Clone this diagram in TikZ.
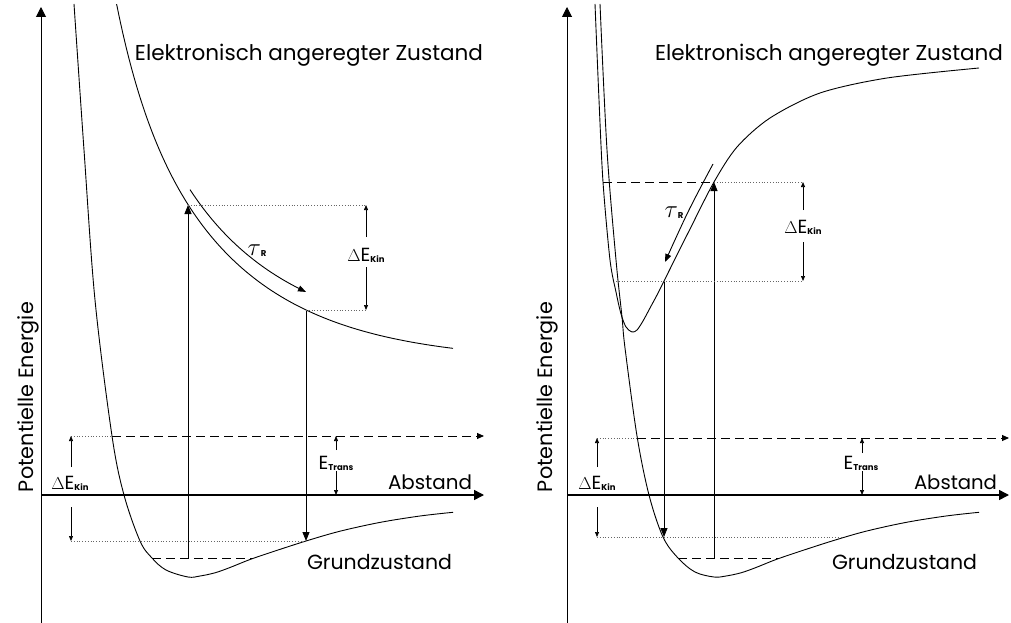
\documentclass[tikz,border=0pt]{standalone}
\usepackage{fontspec}
\setmainfont{Poppins}
\usetikzlibrary{arrows.meta}
\newcommand{\subbf}[1]{\raisebox{-1.5pt}{\fontsize{8.5}{9}\selectfont\bfseries #1}}
\newcommand{\myDEkin}{$\Delta$E\subbf{Kin}}
\newcommand{\myEtrans}{E\subbf{Trans}}
\newcommand{\mytauR}{{\fontsize{25}{26}\selectfont$\tau$}\subbf{R}}
\begin{document}
\begin{tikzpicture}[x=1pt,y=-1pt,
  curve/.style={line width=0.9pt},
  yaxisline/.style={line width=1pt,-{Triangle[length=10pt,width=10pt]}},
  xaxisline/.style={line width=1.5pt,-{Triangle[length=10pt,width=10pt]}},
  trans/.style={line width=0.9pt,-{Triangle[length=9pt,width=7pt]}},
  dimarrow/.style={line width=0.7pt,-{Triangle[length=5pt,width=4pt]}},
  dots/.style={line width=0.8pt,dotted,black!60},
  dashline/.style={line width=0.9pt,dash pattern=on 9pt off 5pt},
  dissarrow/.style={line width=0.9pt,dash pattern=on 9pt off 5pt,-{Triangle[length=7pt,width=6pt]}},
  taustyle/.style={line width=0.9pt,-{Triangle[length=8pt,width=6pt]}},
  lbl/.style={inner sep=0pt,font=\fontsize{20}{24}\selectfont},
  small/.style={inner sep=0pt,font=\fontsize{19}{22}\selectfont},
  declare function={exc(\x)=362-152*exp(-0.0091*(\x-188))-5.5*exp(-0.035*(\x-188));},
]
\useasboundingbox (0,0) rectangle (1011,623);
\fill[white] (0,0) rectangle (1011,623);

% ================= LEFT PANEL =================
\coordinate (lYb) at (41,623);
\coordinate (lYt) at (41,7);
\coordinate (lO) at (41,495);
\coordinate (lXe) at (484,495);
\draw[yaxisline] (lYb) -- (lYt);
\draw[xaxisline] (lO) -- (lXe);

% ground state
\draw[curve] plot[smooth,tension=0.55] coordinates {(74,4) (84,150) (95,300) (112,436) (124,495) (140,541) (152,558) (166,570) (188,577) (200,576) (215,572.8) (230,567.5) (250,559.5) (275,551) (307,540.7) (340,531.2) (380,522.4) (420,516) (453,512.3)};
% excited (repulsive) state
\draw[curve] plot[domain=116.6:453,samples=160] (\x,{exc(\x)});

% vibrational ground level
\coordinate (lg0) at (152,558);
\coordinate (lg1) at (252,558);
\draw[dashline] (lg0) -- (lg1);

% transitions
\coordinate (lu0) at (188,558);
\coordinate (lu1) at (188,205);
\coordinate (ld0) at (306,310);
\coordinate (ld1) at (306,541);
\draw[trans] (lu0) -- (lu1);
\draw[trans] (ld0) -- (ld1);

% Delta E kin (upper)
\coordinate (lk0) at (366,205);
\coordinate (lk1) at (366,310);
\coordinate (lka) at (366,237);
\coordinate (lkb) at (366,267);
\draw[dots] (lu1) -- (lk0);
\draw[dots] (ld0) -- (lk1);
\draw[dimarrow] (lka) -- (lk0);
\draw[dimarrow] (lkb) -- (lk1);
\node[small,anchor=base] (lklbl) at (366,261) {\myDEkin};

% tau_R
\draw[taustyle] plot[domain=190:306,samples=60] (\x,{exc(\x)-18});
\node[small,anchor=base] (ltau) at (257,255) {\mytauR};

% dissociation level
\coordinate (lds0) at (71,436);
\coordinate (lds1) at (112,436);
\coordinate (lds2) at (484,436);
\draw[dots] (lds0) -- (lds1);
\draw[dissarrow] (lds1) -- (lds2);

% E trans
\coordinate (le0) at (336,436);
\coordinate (lea) at (336,450);
\coordinate (leb) at (336,471);
\coordinate (le1) at (336,495);
\draw[dimarrow] (lea) -- (le0);
\draw[dimarrow] (leb) -- (le1);
\node[small,anchor=base] (lelbl) at (336,469) {\myEtrans};

% Delta E kin (lower left)
\coordinate (lb0) at (71,436);
\coordinate (lba) at (71,467);
\coordinate (lbb) at (71,507);
\coordinate (lb1) at (71,541);
\draw[dimarrow] (lba) -- (lb0);
\draw[dimarrow] (lbb) -- (lb1);
\coordinate (lbe) at (306,541);
\draw[dots] (lb1) -- (lbe);
\node[small,anchor=base] (lblbl) at (70,489) {\myDEkin};

% texts
\node[lbl,anchor=base] (lexc) at (309,61) {\resizebox{348pt}{!}{Elektronisch angeregter Zustand}};
\node[lbl,anchor=base] (lgrd) at (379.5,569) {\resizebox{145pt}{!}{Grundzustand}};
\node[lbl,anchor=base] (labs) at (430,489) {\resizebox{84pt}{!}{Abstand}};
\node[lbl,anchor=base,rotate=90] (lpot) at (33,397) {\resizebox{190pt}{!}{Potentielle Energie}};

% ================= RIGHT PANEL =================
\coordinate (rYb) at (567,623);
\coordinate (rYt) at (567,7);
\coordinate (rO) at (567,495);
\coordinate (rXe) at (1009,495);
\draw[yaxisline] (rYb) -- (rYt);
\draw[xaxisline] (rO) -- (rXe);

% ground state
\draw[curve] plot[smooth,tension=0.55] coordinates {(600,4) (607,150) (616,260) (622,317) (625,348) (637,436) (649,495) (663,537) (678,558) (695,572) (714,577) (726,576) (741,572.8) (756,567.5) (776,559.5) (801,551) (833,540.7) (866,531.2) (906,522.4) (946,516) (979,512.3)};
% excited (bound) state
\draw[curve] plot[smooth,tension=0.5] coordinates {(595,4) (599,100) (603,182) (610,260) (616,292) (621,314) (626,327) (632,332) (637,330) (643,321) (650,308) (657,295) (664,281) (689,231) (714,182) (737,147) (770,118) (820,93) (887,78) (979,68)};

% ground vib level
\coordinate (rg0) at (678,558);
\coordinate (rg1) at (778,558);
\draw[dashline] (rg0) -- (rg1);

% excited vib level
\coordinate (rv0) at (603,182);
\coordinate (rv1) at (714,182);
\draw[dashline] (rv0) -- (rv1);

% transitions
\coordinate (ru0) at (714,558);
\coordinate (ru1) at (714,182);
\coordinate (rd0) at (664,281);
\coordinate (rd1) at (664,537);
\draw[trans] (ru0) -- (ru1);
\draw[trans] (rd0) -- (rd1);

% Delta E kin (upper)
\coordinate (rk0) at (803,182);
\coordinate (rk1) at (803,281);
\coordinate (rka) at (803,210);
\coordinate (rkb) at (803,242);
\coordinate (rkd) at (616,281);
\draw[dots] (ru1) -- (rk0);
\draw[dots] (rkd) -- (rk1);
\draw[dimarrow] (rka) -- (rk0);
\draw[dimarrow] (rkb) -- (rk1);
\node[small,anchor=base] (rklbl) at (803,233) {\myDEkin};

% tau_R
\coordinate (rt0) at (713,164);
\coordinate (rt1) at (665,262);
\draw[taustyle] plot[smooth,tension=0.6] coordinates {(rt0) (688,212) (rt1)};
\node[small,anchor=base] (rtau) at (674,217) {\mytauR};

% dissociation level
\coordinate (rds0) at (597,438);
\coordinate (rds1) at (637,438);
\coordinate (rds2) at (1009,438);
\draw[dots] (rds0) -- (rds1);
\draw[dissarrow] (rds1) -- (rds2);

% E trans
\coordinate (re0) at (862,438);
\coordinate (rea) at (862,453);
\coordinate (reb) at (862,471);
\coordinate (re1) at (862,495);
\draw[dimarrow] (rea) -- (re0);
\draw[dimarrow] (reb) -- (re1);
\node[small,anchor=base] (relbl) at (861,469) {\myEtrans};

% Delta E kin (lower left)
\coordinate (rb0) at (597,438);
\coordinate (rba) at (597,467);
\coordinate (rbb) at (597,507);
\coordinate (rb1) at (597,537);
\draw[dimarrow] (rba) -- (rb0);
\draw[dimarrow] (rbb) -- (rb1);
\coordinate (rbe) at (843,537);
\draw[dots] (rb1) -- (rbe);
\node[small,anchor=base] (rblbl) at (597,489) {\myDEkin};

% texts
\node[lbl,anchor=base] (rexc) at (829,61) {\resizebox{348pt}{!}{Elektronisch angeregter Zustand}};
\node[lbl,anchor=base] (rgrd) at (904.5,569) {\resizebox{145pt}{!}{Grundzustand}};
\node[lbl,anchor=base] (rabs) at (955.5,489) {\resizebox{83pt}{!}{Abstand}};
\node[lbl,anchor=base,rotate=90] (rpot) at (552,397) {\resizebox{190pt}{!}{Potentielle Energie}};
\end{tikzpicture}
\end{document}
